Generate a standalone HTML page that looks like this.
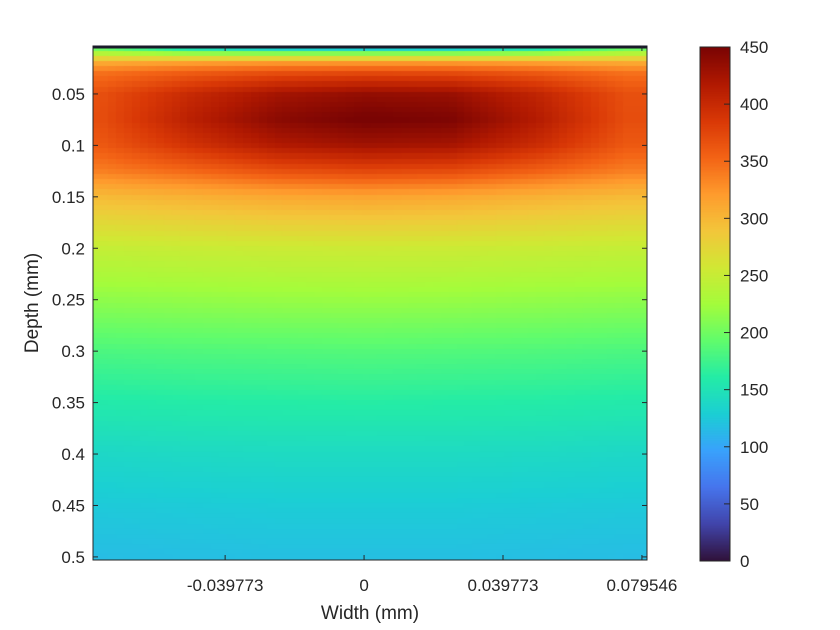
<!DOCTYPE html>
<html><head><meta charset="utf-8"><style>
body{margin:0;background:#fff;}
#wrap{position:relative;width:840px;height:630px;overflow:hidden;font-family:"Liberation Sans",sans-serif;}
canvas{position:absolute;}
svg{position:absolute;left:0;top:0;}
</style></head><body>
<div id="wrap">
<canvas id="hm" width="554" height="514" style="left:93px;top:46px"></canvas>
<canvas id="cb" width="30" height="514" style="left:700px;top:47px"></canvas>
<svg id="ov" width="840" height="630"></svg>
</div>
<script>
const xCols=[-0.075,-0.05,-0.025,0,0.025,0.05,0.075];
const depthRows=[0.004,0.008,0.013,0.02,0.03,0.05,0.075,0.1,0.125,0.15,0.2,0.25,0.3,0.35,0.4,0.45,0.5];
const values=[
[190,130,100,95,100,130,190],
[210,180,170,168,170,180,210],
[255,245,240,240,240,245,255],
[310,318,322,322,322,318,310],
[345,358,368,372,370,360,345],
[368,400,425,435,432,405,368],
[370,410,440,452,448,415,370],
[362,392,418,428,425,398,362],
[338,352,368,375,372,356,338],
[298,305,312,315,312,305,298],
[248,251,253,254,253,251,248],
[215,217,219,220,219,217,215],
[182,184,185,186,185,184,182],
[158,160,161,162,161,160,158],
[138,140,141,141,141,140,138],
[125,126,127,127,127,126,125],
[116,117,118,118,118,117,116]];
const xTicks=[-0.039773,0,0.039773,0.079546];
const xTickLabels=["-0.039773","0","0.039773","0.079546"];
const yTicks=[0.05,0.1,0.15,0.2,0.25,0.3,0.35,0.4,0.45,0.5];
const yTickLabels=["0.05","0.1","0.15","0.2","0.25","0.3","0.35","0.4","0.45","0.5"];
const cTicks=[0,50,100,150,200,250,300,350,400,450];
const cMin=0,cMax=450;
const xMin=-0.0776,xMax=0.081,yMin=0.0034,yMax=0.503;
const L=93,R=647,T=46,B=560;
const sx=v=>L+(v-xMin)/(xMax-xMin)*(R-L);
const sy=v=>T+(v-yMin)/(yMax-yMin)*(B-T);
const LUT=[[48,18,59],[65,69,171],[70,117,237],[57,162,252],[27,207,212],[36,236,166],[97,252,108],[164,252,59],[209,232,52],[243,198,58],[254,155,45],[243,99,21],[217,56,6],[177,25,1],[122,4,3]];
function turbo(t){t=Math.max(0,Math.min(1,t));const p=t*(LUT.length-1);let i=Math.min(LUT.length-2,Math.floor(p));const f=p-i;
const c=k=>Math.round(LUT[i][k]*(1-f)+LUT[i+1][k]*f);return `rgb(${c(0)},${c(1)},${c(2)})`;}
function idx(arr,v){let i=0;while(i<arr.length-2&&v>arr[i+1])i++;let f=(v-arr[i])/(arr[i+1]-arr[i]);return [i,Math.max(0,Math.min(1,f))];}
function val(x,d){const [i,fx]=idx(xCols,x),[j,fy]=idx(depthRows,d);
const a=values[j][i]*(1-fx)+values[j][i+1]*fx,b=values[j+1][i]*(1-fx)+values[j+1][i+1]*fx;return a*(1-fy)+b*fy;}
const hm=document.getElementById('hm').getContext('2d');
const nx=70,ny=100;const cw=(R-L)/nx,ch=(B-T)/ny;
for(let i=0;i<nx;i++)for(let j=0;j<ny;j++){
const x=xMin+(i+0.5)/nx*(xMax-xMin),d=yMin+(j+0.5)/ny*(yMax-yMin);
hm.fillStyle=turbo((val(x,d)-cMin)/(cMax-cMin));
hm.fillRect(Math.floor(i*cw),Math.floor(j*ch),Math.ceil(cw)+1,Math.ceil(ch)+1);}
const cb=document.getElementById('cb').getContext('2d');
for(let k=0;k<514;k++){cb.fillStyle=turbo(1-k/513);cb.fillRect(0,k,30,1);}
const ov=document.getElementById('ov');const NS='http://www.w3.org/2000/svg';
function el(t,a,txt){const e=document.createElementNS(NS,t);for(const k in a)e.setAttribute(k,a[k]);if(txt!==undefined)e.textContent=txt;ov.appendChild(e);return e;}
let e=el('rect',{x:L,y:T,width:R-L,height:B-T,fill:'none',stroke:'#262626','stroke-width':1});

e=el('line',{x1:L,y1:T+1,x2:R,y2:T+1,stroke:'#1a1a2a','stroke-width':3});

xTicks.forEach((v,k)=>{const x=sx(v);
el('line',{x1:x,y1:B,x2:x,y2:B-5,stroke:'#262626'});el('line',{x1:x,y1:T,x2:x,y2:T+5,stroke:'#262626'});
e=el('text',{x:x,y:B+31,'text-anchor':'middle','font-size':'17',fill:'#262626'},xTickLabels[k]);
});
yTicks.forEach((v,k)=>{const y=sy(v);
el('line',{x1:L,y1:y,x2:L+5,y2:y,stroke:'#262626'});el('line',{x1:R,y1:y,x2:R-5,y2:y,stroke:'#262626'});
e=el('text',{x:85,y:y+6,'text-anchor':'end','font-size':'17',fill:'#262626'},yTickLabels[k]);
});
e=el('text',{x:370,y:619,'text-anchor':'middle','font-size':'19',fill:'#262626'},'Width (mm)');

e=el('text',{x:0,y:0,'text-anchor':'middle','font-size':'19',fill:'#262626',transform:'translate(38,303) rotate(-90)'},'Depth (mm)');

e=el('rect',{x:700,y:47,width:30,height:514,fill:'none',stroke:'#262626'});

cTicks.forEach(v=>{const y=561-(v-cMin)/(cMax-cMin)*514;
el('line',{x1:724,y1:y,x2:730,y2:y,stroke:'#262626'});
e=el('text',{x:740,y:y+6,'font-size':'17',fill:'#262626'},String(v));
});
</script>
</body></html>
